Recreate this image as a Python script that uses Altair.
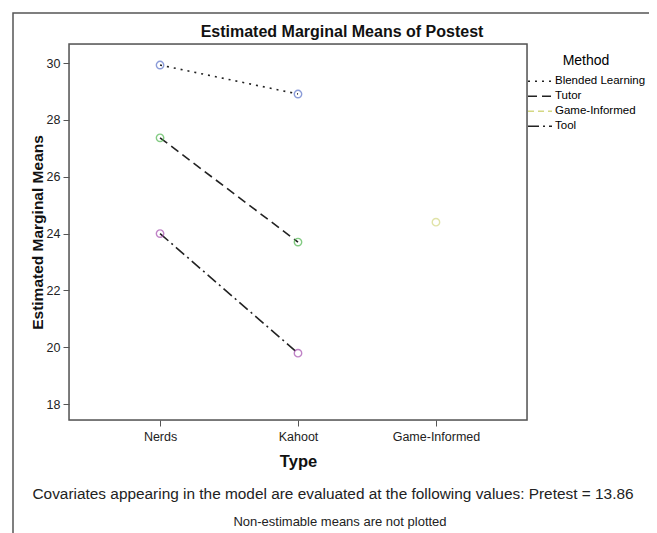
import altair as alt
import pandas as pd

types = ["Nerds", "Kahoot", "Game-Informed"]
methods = ["Blended Learning", "Tutor", "Game-Informed", "Tool"]

blended = {"Nerds": 29.93, "Kahoot": 28.91}
tutor = {"Nerds": 27.37, "Kahoot": 23.70}
game = {"Game-Informed": 24.40}
tool = {"Nerds": 24.00, "Kahoot": 19.79}

series = {"Blended Learning": blended, "Tutor": tutor, "Game-Informed": game, "Tool": tool}
rows = []
for m in methods:
    for t, v in series[m].items():
        rows.append({"Type": t, "Method": m, "Mean": v})
df = pd.DataFrame(rows)

point_colors = ["#5b73c9", "#4fb64f", "#d4d883", "#a64fb0"]
line_colors = ["#222222", "#222222", "#d4d883", "#222222"]
dashes = [[2, 5], [9, 5], [6, 4], [11, 4, 2, 4]]

FONT = "Liberation Sans"

x = alt.X("Type:N", sort=types,
          scale=alt.Scale(type="point", domain=types, padding=0.66),
          axis=alt.Axis(title="Type", labelAngle=0, titleFontSize=16.5, titleFontWeight="bold",
                        labelFontSize=12.5, titlePadding=11, labelPadding=4, tickSize=6,
                        domain=False, tickColor="#555", labelColor="#222", titleColor="#111"))
y = alt.Y("Mean:Q", scale=alt.Scale(domain=[17.44, 30.67], nice=False, zero=False),
          axis=alt.Axis(title="Estimated Marginal Means", values=[18, 20, 22, 24, 26, 28, 30],
                        grid=False, titleFontSize=15.5, titleFontWeight="bold", labelFontSize=12.5,
                        tickSize=6, domain=False, tickColor="#555", labelColor="#222",
                        titleColor="#111", titlePadding=1, labelPadding=3))

lines = alt.Chart(df).mark_line(strokeWidth=1.6).encode(
    x=x, y=y,
    color=alt.Color("Method:N", sort=methods,
                    scale=alt.Scale(domain=methods, range=line_colors),
                    legend=alt.Legend(title="Method", orient="none", legendX=458, legendY=10,
                                      titleFontSize=14, titleFontWeight="normal",
                                      titleAnchor="middle", labelFontSize=11.5,
                                      symbolType="stroke", symbolSize=576, symbolStrokeWidth=1.6,
                                      clipHeight=14.5, rowPadding=0, labelOffset=2, titlePadding=6,
                                      labelLimit=200)),
    strokeDash=alt.StrokeDash("Method:N", sort=methods,
                              scale=alt.Scale(domain=methods, range=dashes)),
    detail="Method:N",
)

points = alt.Chart(df).mark_point(shape="circle", filled=False, size=55, strokeWidth=1.4).encode(
    x=x, y=y,
    stroke=alt.Stroke("Method:N", scale=alt.Scale(domain=methods, range=point_colors), legend=None),
)

plotframe = alt.Chart(pd.DataFrame({"a": [0]})).mark_rect(
    fill=None, stroke="#555", strokeWidth=1.5).encode(
    x=alt.value(0), x2=alt.value(458), y=alt.value(0), y2=alt.value(376))

frame = alt.Chart(pd.DataFrame({"a": [0]})).mark_rect(
    fill=None, stroke="#555", strokeWidth=1.5).encode(
    x=alt.value(-56), x2=alt.value(620), y=alt.value(-31), y2=alt.value(560))

title = alt.Chart(pd.DataFrame({"t": ["Estimated Marginal Means of Postest"]})).mark_text(
    fontSize=16, fontWeight="bold", font=FONT, color="#111", align="center",
    baseline="alphabetic").encode(text="t:N", x=alt.value(273), y=alt.value(-7))

note1 = alt.Chart(pd.DataFrame({"t": ["Covariates appearing in the model are evaluated at the following values: Pretest = 13.86"]})).mark_text(
    fontSize=15.4, font=FONT, color="#222", align="center", baseline="middle").encode(
    text="t:N", x=alt.value(264), y=alt.value(450))
note2 = alt.Chart(pd.DataFrame({"t": ["Non-estimable means are not plotted"]})).mark_text(
    fontSize=13, font=FONT, color="#222", align="center", baseline="middle").encode(
    text="t:N", x=alt.value(271), y=alt.value(478))

chart = alt.layer(frame, plotframe, lines, points, title, note1, note2).properties(
    width=458, height=376,
    autosize=alt.AutoSizeParams(type="none"),
    padding={"left": 61, "top": 36, "right": 122, "bottom": 125},
).configure_view(stroke=None).configure(font=FONT).configure_axis(
    labelFont=FONT, titleFont=FONT).configure_legend(labelFont=FONT, titleFont=FONT)

chart.save("out.html", embed_options={"renderer": "svg", "actions": False})
